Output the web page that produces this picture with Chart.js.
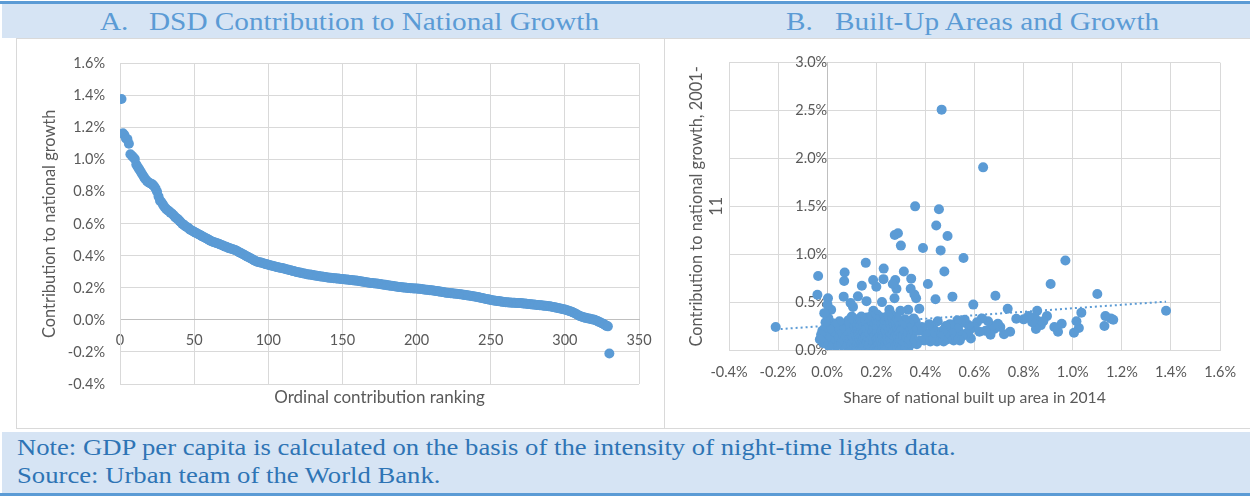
<!DOCTYPE html>
<html>
<head>
<meta charset="utf-8">
<script src="https://cdn.jsdelivr.net/npm/chart.js"></script>
<style>
body{margin:0;width:1250px;height:496px;position:relative;overflow:hidden;background:#fff;font-family:"Liberation Serif","Times New Roman",serif;}
#topline{position:absolute;left:0;top:1px;width:1250px;height:3px;background:#5b9bd5;}
#band{position:absolute;left:2px;top:4px;width:1248px;height:34px;background:#d6e4f4;}
.ttl{position:absolute;top:5px;height:34px;line-height:34px;font-size:25px;color:#5b9bd5;white-space:nowrap;transform:scaleX(1.17);transform-origin:left center;}
.panel{position:absolute;top:38px;height:391px;border:1px solid #d9d9d9;box-sizing:border-box;}
#noteband{position:absolute;left:2px;top:432px;width:1248px;height:61px;background:#d6e4f4;}
#bottomline{position:absolute;left:0;top:493px;width:1250px;height:3px;background:#5b9bd5;}
#note{position:absolute;left:17px;top:434px;font-size:22.5px;line-height:28px;color:#2e74b5;white-space:nowrap;transform:scaleX(1.186);transform-origin:left top;}
.box{position:absolute;top:40px;height:390px;}
</style>
</head>
<body>
<div id="topline"></div>
<div id="band"></div>
<div class="ttl" style="left:100px">A.</div>
<div class="ttl" style="left:149px">DSD Contribution to National Growth</div>
<div class="ttl" style="left:786px">B.</div>
<div class="ttl" style="left:835px">Built-Up Areas and Growth</div>
<div class="panel" style="left:16px;width:649px"></div>
<div class="panel" style="left:664px;width:590px"></div>
<div class="box" style="left:16px;width:648px"><canvas id="chartA"></canvas></div>
<div class="box" style="left:665px;width:585px"><canvas id="chartB"></canvas></div>
<div id="noteband"></div>
<div id="bottomline"></div>
<div id="note">Note: GDP per capita is calculated on the basis of the intensity of night-time lights data.<br>Source: Urban team of the World Bank.</div>
<script>
// contribution to national growth (%), ranked 1..330
growthContribution=[
1.38,1.165,1.155,1.133,1.129,1.10,1.035,1.025,1.015,1.005,
0.97,0.955,0.94,0.925,0.91,0.895,0.88,0.87,0.86,0.855,
0.85,0.845,0.835,0.82,0.80,0.77,0.745,0.735,0.72,0.705,
0.695,0.685,0.68,0.67,0.665,0.655,0.645,0.635,0.63,0.62,
0.61,0.60,0.595,0.585,0.58,0.575,0.565,0.56,0.555,0.55,
0.545,0.54,0.535,0.53,0.525,0.52,0.515,0.51,0.505,0.50,
0.495,0.49,0.487,0.483,0.48,0.477,0.474,0.47,0.466,0.462,
0.458,0.455,0.45,0.447,0.444,0.441,0.438,0.435,0.43,0.425,
0.42,0.415,0.41,0.405,0.40,0.395,0.39,0.385,0.38,0.375,
0.37,0.365,0.362,0.36,0.358,0.355,0.352,0.35,0.347,0.345,
0.342,0.34,0.337,0.335,0.332,0.33,0.328,0.326,0.324,0.322,
0.32,0.317,0.315,0.312,0.31,0.307,0.305,0.302,0.30,0.298,
0.296,0.294,0.292,0.29,0.288,0.286,0.284,0.283,0.282,0.28,
0.278,0.277,0.275,0.274,0.272,0.271,0.27,0.268,0.267,0.265,
0.264,0.263,0.262,0.261,0.26,0.259,0.258,0.257,0.256,0.255,
0.254,0.253,0.252,0.251,0.25,0.249,0.248,0.247,0.246,0.245,
0.243,0.242,0.24,0.239,0.237,0.236,0.234,0.233,0.231,0.23,
0.229,0.228,0.227,0.226,0.225,0.223,0.222,0.22,0.219,0.217,
0.216,0.214,0.213,0.212,0.21,0.209,0.208,0.206,0.205,0.204,
0.203,0.202,0.201,0.2,0.199,0.198,0.198,0.197,0.197,0.196,
0.195,0.194,0.193,0.192,0.19,0.189,0.188,0.187,0.186,0.185,
0.184,0.182,0.181,0.18,0.178,0.177,0.175,0.174,0.172,0.17,
0.169,0.168,0.167,0.166,0.165,0.164,0.163,0.162,0.161,0.16,
0.158,0.157,0.155,0.154,0.152,0.151,0.149,0.148,0.146,0.145,
0.143,0.141,0.139,0.137,0.135,0.133,0.131,0.129,0.127,0.125,
0.123,0.122,0.12,0.119,0.118,0.116,0.115,0.113,0.112,0.11,
0.11,0.109,0.109,0.108,0.107,0.107,0.106,0.106,0.105,0.105,
0.104,0.103,0.102,0.101,0.1,0.099,0.098,0.097,0.096,0.095,
0.094,0.093,0.092,0.091,0.09,0.089,0.088,0.087,0.086,0.085,
0.083,0.081,0.079,0.077,0.075,0.073,0.071,0.069,0.067,0.065,
0.062,0.059,0.056,0.053,0.05,0.045,0.04,0.035,0.03,0.025,
0.022,0.019,0.016,0.013,0.011,0.009,0.007,0.005,0.003,0.001,
-0.003,-0.007,-0.012,-0.016,-0.02,-0.025,-0.03,-0.037,-0.04,-0.21
];
// second value for the same DSDs, panel B (%)
builtUpShare=[
0.41,0.316,0.33,0.354,0.25,0.585,0.39,0.23,0.30,0.18,
0.935,0.275,0.19,0.24,0.69,0.354,0.30,0.26,0.30,0.41,
0.22,0.34,0.29,0.354,0.32,0.326,0.19,0.43,0.165,0.24,
0.275,0.567,0.22,0.25,0.16,0.30,0.20,1.907,0.33,0.19,
0.29,0.24,0.474,0.12,0.21,0.26,0.17,0.316,0.96,0.145,
0.28,0.10,0.20,0.31,0.23,0.12,0.10,0.557,0.18,0.27,
0.12,1.19,0.11,0.25,0.16,0.82,0.09,0.20,2.51,1.04,
0.14,1.47,0.30,0.09,1.30,0.53,0.206,0.103,0.22,0.15,
0.09,0.27,0.69,0.12,0.18,0.10,1.065,0.24,0.10,0.43,
0.20,0.06,0.54,0.30,1.50,0.58,0.33,0.12,0.22,0.07,
0.745,0.64,0.16,0.28,0.03,0.42,0.19,0.11,0.25,0.06,
0.14,0.32,0.09,0.82,0.21,0.04,0.17,0.26,1.09,0.41,
0.12,0.05,0.20,0.08,1.22,0.30,0.14,0.35,0.64,0.02,
0.22,0.73,1.20,0.54,0.10,0.16,0.27,0.06,0.69,0.19,
0.12,0.31,0.04,0.23,0.09,0.15,0.38,0.07,0.25,0.13,
0.33,0.42,0.05,0.18,0.28,0.11,0.36,0.03,0.21,0.14,
0.26,0.08,0.19,0.31,0.05,0.15,0.23,0.10,0.29,0.85,
0.74,0.04,0.17,0.34,0.12,0.50,0.21,0.07,0.27,0.14,
0.03,0.24,0.18,0.32,0.09,0.20,0.06,0.28,0.13,0.37,
0.05,0.16,0.25,0.66,0.11,0.30,0.04,0.19,0.22,0.08,
0.33,0.14,0.06,0.27,0.17,0.10,0.41,0.73,0.23,0.03,
0.15,0.29,0.07,0.20,0.12,0.35,0.05,0.24,0.18,0.09,
0.31,0.13,0.04,0.26,0.16,0.08,0.21,0.34,0.11,0.51,
0.06,0.91,0.19,0.28,0.03,0.14,0.24,0.09,0.32,0.17,
0.05,0.67,0.35,0.12,0.22,0.07,0.29,0.15,0.04,0.56,
0.20,0.10,0.26,0.06,0.18,0.31,0.13,0.03,0.23,0.09,
0.16,0.28,0.05,0.21,0.11,0.33,0.07,0.19,0.45,0.14,
0.04,0.25,0.10,0.17,0.35,0.06,0.22,0.12,0.29,0.49,
0.08,0.18,0.03,0.26,0.13,0.21,0.05,0.16,0.31,0.09,
0.24,0.04,0.14,0.20,0.07,0.27,0.81,0.72,0.557,0.11,
0.19,0.05,0.23,0.12,0.30,0.08,0.17,0.04,0.24,0.14,
0.28,0.06,0.42,0.18,0.10,0.22,0.04,0.33,0.54,0.474,
0.13,0.29,0.385,0.07,0.20,0.16,0.11,0.773,0.577,0.24
];
// linear trend line ends, panel B
trendX=[-0.21,1.38];
trendY=[0.215,0.505];

blue='#5b9bd5';
grid='#d9d9d9';
Chart.defaults.font.family='Lato';
Chart.defaults.font.size=14.5;
Chart.defaults.color='#595959';

function pct(v){
  if(Math.abs(v)<1e-9) v=0;
  return v.toFixed(1)+'%';
}

pointsA=growthContribution.map(function(v,i){return {x:i+1,y:v};});
pointsB=growthContribution.map(function(v,i){return {x:v,y:builtUpShare[i]};});
trend=trendX.map(function(v,i){return {x:v,y:trendY[i]};});

new Chart(document.getElementById('chartA'),{
  type:'scatter',
  data:{datasets:[{
    data:pointsA,
    backgroundColor:blue,
    borderColor:blue,
    borderWidth:0,
    pointRadius:5,
    pointHoverRadius:5
  }]},
  options:{
    animation:false,
    responsive:true,
    maintainAspectRatio:false,
    devicePixelRatio:1,
    layout:{padding:{top:19,right:25,left:0,bottom:0}},
    plugins:{
      legend:{display:false},
      tooltip:{enabled:false},
      title:{
        display:true,
        position:'bottom',
        fullSize:false,
        text:'Ordinal contribution ranking',
        font:{size:17,weight:'normal'},
        color:'#595959',
        padding:{top:3.8,bottom:21.8}
      }
    },
    scales:{
      x:{
        type:'linear',
        min:0,max:350,
        position:{y:0},
        ticks:{stepSize:50,padding:12},
        grid:{color:grid,drawTicks:false},
        border:{color:'#bfbfbf'}
      },
      y:{
        min:-0.4,max:1.6,
        ticks:{stepSize:0.2,padding:15,callback:pct},
        grid:{color:grid,drawTicks:false},
        border:{color:grid},
        title:{display:true,text:'Contribution to national growth',font:{size:16.4},padding:{top:24.2,bottom:0}},
        afterFit:function(s){s.width=104;}
      }
    }
  }
});

new Chart(document.getElementById('chartB'),{
  type:'scatter',
  data:{datasets:[{
    data:pointsB,
    backgroundColor:blue,
    borderColor:blue,
    borderWidth:0,
    pointRadius:5,
    pointHoverRadius:5
  },{
    type:'line',
    data:trend,
    borderColor:blue,
    borderWidth:2,
    borderDash:[2,3],
    pointRadius:0,
    fill:false
  }]},
  options:{
    animation:false,
    responsive:true,
    maintainAspectRatio:false,
    devicePixelRatio:1,
    layout:{padding:{top:19,right:15,left:0,bottom:0}},
    plugins:{
      legend:{display:false},
      tooltip:{enabled:false},
      title:{
        display:true,
        position:'left',
        fullSize:false,
        text:['Contribution to national growth, 2001-','11'],
        font:{size:16.4,weight:'normal',lineHeight:1.22},
        color:'#595959',
        padding:{top:22,bottom:2}
      }
    },
    scales:{
      x:{
        type:'linear',
        min:-0.4,max:1.6,
        ticks:{stepSize:0.2,padding:14,callback:pct},
        grid:{color:grid,drawTicks:false},
        border:{color:grid},
        title:{display:true,text:'Share of national built up area in 2014',font:{size:15.7},padding:{top:0,bottom:22.6}},
        afterFit:function(s){s.height=80;}
      },
      y:{
        min:0,max:3.0,
        position:{x:0},
        ticks:{stepSize:0.5,padding:14,callback:pct},
        grid:{color:grid,drawTicks:false},
        border:{color:'#bfbfbf'}
      }
    }
  }
});
</script>
</body>
</html>
